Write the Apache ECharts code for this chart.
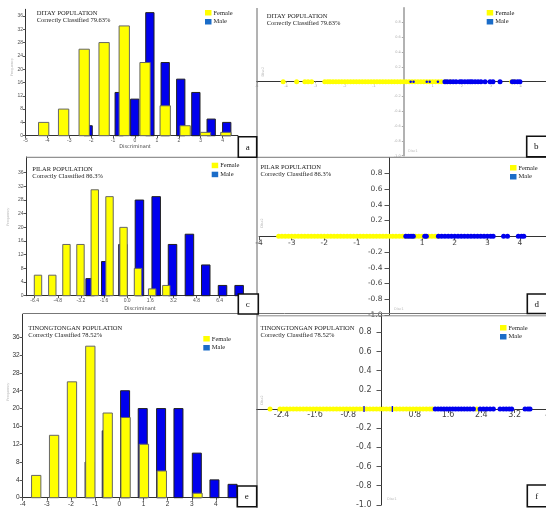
<!DOCTYPE html>
<html>
<head>
<meta charset="utf-8">
<script src="https://cdn.jsdelivr.net/npm/echarts@6/dist/echarts.min.js"></script>
<style>
html, body { margin: 0; padding: 0; background: #fff; }
#chart { width: 546px; height: 508px; }
</style>
</head>
<body>
<div id="chart"></div>
<script>
// tick values
const freqTicks = [0, 4, 8, 12, 16, 20, 24, 28, 32, 36];
const ditayTicks = [-5, -4, -3, -2, -1, 0, 1, 2, 3, 4];
const pilarTicks = [-6.4, -4.8, -3.2, -1.6, 0, 1.6, 3.2, 4.8, 6.4];
const tinongTicks = [-4, -3, -2, -1, 0, 1, 2, 3, 4];
const ditayScatterTicks = [-5, -4, -3, -2, -1, 1, 2, 3, 4];
const pilarScatterTicks = [-4, -3, -2, -1, 1, 2, 3, 4];
const tinongScatterTicks = [-2.4, -1.6, -0.8, 0.8, 1.6, 2.4, 3.2, 4];
const disc2Ticks = [-1, -0.8, -0.6, -0.4, -0.2, 0.2, 0.4, 0.6, 0.8];

// histograms (bin centre, frequency)
const ditayFemaleX = [-4.17, -3.26, -2.32, -1.41, -0.49, 0.46, 1.38, 2.29, 3.22, 4.15];
const ditayFemaleN = [4, 8, 26, 28, 33, 22, 9, 3, 1, 1];
const ditayMaleX = [-2.14, -0.72, -0.01, 0.68, 1.38, 2.09, 2.78, 3.48, 4.19];
const ditayMaleN = [3, 13, 11, 37, 22, 17, 13, 5, 4];

const pilarFemaleX = [-6.17, -5.18, -4.2, -3.23, -2.24, -1.22, -0.25, 0.75, 1.73, 2.71];
const pilarFemaleN = [6, 6, 15, 15, 31, 29, 20, 8, 2, 3];
const pilarMaleX = [-2.56, -1.48, -0.29, 0.85, 2.01, 3.14, 4.31, 5.44, 6.6, 7.75];
const pilarMaleN = [5, 10, 15, 28, 29, 15, 18, 9, 3, 3];

const tinongFemaleX = [-3.44, -2.7, -1.96, -1.2, -0.48, 0.26, 1.02, 1.76, 3.24];
const tinongFemaleN = [5, 14, 26, 34, 19, 18, 12, 6, 1];
const tinongMaleX = [-1.23, -0.52, 0.24, 0.97, 1.73, 2.45, 3.21, 3.94, 4.69];
const tinongMaleN = [8, 15, 24, 20, 20, 20, 10, 4, 3];

// discriminant scores (plotted on Disc2 = 0)
const ditayFemaleScores = [-4.1, -3.64, -3.36, -3.25, -3.13, -2.68, -2.58, -2.5, -2.4, -2.3, -2.2, -2.1, -2.0,
  -1.9, -1.8, -1.7, -1.6, -1.5, -1.4, -1.3, -1.2, -1.1, -1.0, -0.9, -0.8, -0.7, -0.6, -0.5, -0.4, -0.3, -0.2,
  -0.1, 0.0, 0.1, 0.2, 0.3, 0.4, 0.5, 0.6, 0.7, 0.8, 0.9, 1.0, 1.1, 1.2, 1.3, 1.45, 1.6, 3.7, 3.8];
const ditayMaleMinor = [0.25, 0.35, 0.8, 0.9, 1.18];
const ditayMaleScores = [1.42, 1.5, 1.6, 1.7, 1.8, 1.93, 2.0, 2.1, 2.2, 2.28, 2.35, 2.45, 2.55, 2.65, 2.79,
  2.96, 3.06, 3.3, 3.72, 3.8, 3.9, 3.98];

const pilarFemaleScores = [-3.4, -3.3, -3.2, -3.1, -3.0, -2.9, -2.8, -2.7, -2.6, -2.5, -2.4, -2.3, -2.2, -2.1,
  -2.0, -1.9, -1.8, -1.7, -1.6, -1.5, -1.4, -1.3, -1.2, -1.1, -1.0, -0.9, -0.8, -0.7, -0.6, -0.5, -0.4, -0.3,
  -0.2, -0.1, 0.0, 0.1, 0.2, 0.3, 0.4, 0.5, 0.6, 0.7, 0.8, 0.9, 1.0, 1.1, 1.2, 1.3, 1.4, 1.5];
const pilarMaleScores = [0.5, 0.58, 0.66, 0.73, 1.08, 1.13, 1.5, 1.6, 1.7, 1.8, 1.9, 2.0, 2.1, 2.2, 2.3, 2.4,
  2.5, 2.6, 2.7, 2.8, 2.9, 3.0, 3.1, 3.18, 3.5, 3.62, 3.95, 4.05, 4.12];

const tinongFemaleScores = [-2.68, -2.44, -2.36, -2.28, -2.2, -2.12, -2.04, -1.96, -1.88, -1.8, -1.72, -1.64,
  -1.56, -1.48, -1.4, -1.32, -1.24, -1.16, -1.08, -1.0, -0.92, -0.84, -0.76, -0.68, -0.6, -0.52, -0.44, -0.36,
  -0.28, -0.2, -0.12, -0.04, 0.04, 0.12, 0.2, 0.28, 0.36, 0.44, 0.52, 0.6, 0.68, 0.76, 0.84, 0.92, 1.0, 1.08,
  1.16, 1.22, 2.29];
const tinongCentroids = [-0.42, 0.26];
const tinongMaleScores = [1.29, 1.36, 1.43, 1.5, 1.57, 1.64, 1.71, 1.78, 1.85, 1.92, 1.99, 2.06, 2.13, 2.21,
  2.37, 2.45, 2.53, 2.61, 2.69, 2.85, 2.93, 3.0, 3.07, 3.13, 3.45, 3.52, 3.57];

const YELLOW = '#ffff00';
const BLUE = '#0000ee';
const LEGEND_BLUE = '#1a6cc8';

const chart = echarts.init(document.getElementById('chart'));

function pairs(xs, ys) {
    return xs.map((x, i) => [x, ys ? ys[i] : 0]);
}

function barRender(width, fill, stroke) {
    return function (params, api) {
        const base = api.coord([api.value(0), 0]);
        const top = api.coord([api.value(0), api.value(1)]);
        return {
            type: 'rect',
            shape: { x: base[0] - width / 2, y: top[1], width: width, height: base[1] - top[1] },
            style: { fill: fill, stroke: stroke, lineWidth: 1 }
        };
    };
}

function histBars(idx, xs, ys, width, fill, stroke) {
    return {
        type: 'custom', xAxisIndex: idx, yAxisIndex: idx,
        data: pairs(xs, ys), renderItem: barRender(width, fill, stroke),
        encode: { x: 0, y: 1 }, silent: true
    };
}

function dots(idx, xs, color, size, symbol) {
    return {
        type: 'scatter', xAxisIndex: idx, yAxisIndex: idx,
        data: pairs(xs), symbol: symbol || 'circle', symbolSize: size,
        itemStyle: { color: color, opacity: 1 }, silent: true
    };
}

function valueAxis(idx, min, max, ticks, fmt, font, offset, line) {
    return {
        type: 'value', gridIndex: idx, min: min, max: max, offset: offset,
        splitLine: { show: false },
        axisLine: { onZero: false, lineStyle: line },
        axisTick: { customValues: ticks, length: font.tick, lineStyle: { color: font.tickColor || '#555' } },
        axisLabel: {
            customValues: ticks, formatter: fmt, fontSize: font.size, color: font.color,
            fontFamily: font.family, margin: font.margin
        }
    };
}

const histFont = { size: 5, color: '#555', family: 'Liberation Sans', margin: 2.5, tick: 2.5 };
const histFontE = { size: 6.5, color: '#333', family: 'Liberation Sans', margin: 3, tick: 3 };
const tinyFont = { size: 3.5, color: '#aaa', family: 'DejaVu Sans', margin: 2.5, tick: 1.5, tickColor: '#aaa' };
const scatFontD = { size: 7.5, color: '#444', family: 'DejaVu Sans', margin: 3, tick: 4 };
const scatFontDY = { size: 7.5, color: '#444', family: 'DejaVu Sans', margin: 7, tick: 5 };
const scatFontF = { size: 8, color: '#444', family: 'DejaVu Sans', margin: 2, tick: 4 };
const scatFontFY = { size: 8, color: '#444', family: 'DejaVu Sans', margin: 10, tick: 5 };

const intFmt = v => String(Math.round(v * 10) / 10);
const oneDec = v => (Math.abs(v - 4) < 1e-9 ? '4' : v.toFixed(1));
const darkLine = { color: '#333', width: 1 };
const grayLine = { color: '#999', width: 1.5 };

const grids = [
    { left: 25.5, top: 9.3, width: 212.4, height: 126.4 },
    { left: 256.8, top: 7.7, width: 290.1, height: 148 },
    { left: 26, top: 157, width: 216.75, height: 138.7 },
    { left: 259.1, top: 157.5, width: 286.9, height: 157.5 },
    { left: 22.7, top: 314.1, width: 217.35, height: 183.6 },
    { left: 256.7, top: 313.2, width: 291.2, height: 191.6 }
];

// scatter panels: shift the axes so they cross at (0, 0)
function xOffset(g, ymin, ymax) { return -(g.height * (0 - ymin) / (ymax - ymin)); }
function yOffset(g, xmin, xmax) { return -(g.width * (0 - xmin) / (xmax - xmin)); }

const xAxes = [
    valueAxis(0, -5, 4.7, ditayTicks, intFmt, histFont, 0, darkLine),
    valueAxis(1, -5, 4.9, ditayScatterTicks, intFmt, tinyFont, xOffset(grids[1], -1, 1), darkLine),
    valueAxis(2, -7, 8, pilarTicks, v => v.toFixed(1), histFont, 0, darkLine),
    valueAxis(3, -4, 4.8, pilarScatterTicks, intFmt, scatFontD, xOffset(grids[3], -1, 1), darkLine),
    valueAxis(4, -4, 5, tinongTicks, intFmt, histFontE, 0, darkLine),
    valueAxis(5, -3, 4, tinongScatterTicks, oneDec, scatFontF, xOffset(grids[5], -1, 1), darkLine)
];
const yAxes = [
    valueAxis(0, 0, 38, freqTicks, intFmt, histFont, 0, darkLine),
    valueAxis(1, -1, 1, disc2Ticks, v => v.toFixed(1), tinyFont, yOffset(grids[1], -5, 4.9), grayLine),
    valueAxis(2, 0, 40.6, freqTicks, intFmt, histFont, 0, darkLine),
    valueAxis(3, -1, 1, disc2Ticks, v => v.toFixed(1), scatFontDY, yOffset(grids[3], -4, 4.8), darkLine),
    valueAxis(4, 0, 41.2, freqTicks, intFmt, histFontE, 0, darkLine),
    valueAxis(5, -1, 1, disc2Ticks, v => v.toFixed(1), scatFontFY, yOffset(grids[5], -3, 4), darkLine)
];

const series = [
    histBars(0, ditayMaleX, ditayMaleN, 8.3, BLUE, '#222'),
    histBars(0, ditayFemaleX, ditayFemaleN, 10.3, YELLOW, '#666'),
    dots(1, ditayFemaleScores, YELLOW, 5),
    dots(1, ditayMaleMinor, BLUE, 2.5),
    dots(1, ditayMaleScores, BLUE, 5),
    histBars(2, pilarMaleX, pilarMaleN, 8.5, BLUE, '#222'),
    histBars(2, pilarFemaleX, pilarFemaleN, 7.4, YELLOW, '#666'),
    dots(3, pilarFemaleScores, YELLOW, 5),
    dots(3, pilarMaleScores, BLUE, 5),
    histBars(4, tinongMaleX, tinongMaleN, 9, BLUE, '#222'),
    histBars(4, tinongFemaleX, tinongFemaleN, 9.3, YELLOW, '#666'),
    dots(5, tinongFemaleScores, YELLOW, 5),
    dots(5, tinongMaleScores, BLUE, 5),
    dots(5, tinongCentroids, BLUE, [1.3, 6], 'rect')
];

// panel annotations
const panels = [
    { tx: 36.7, ty: 13, name: 'DITAY POPULATION', rate: 'Correctly Classified 79.63%', lx: 205, ly: 10, box: [238.3, 136.7, 18.4, 20.6], letter: 'a' },
    { tx: 266.7, ty: 16.7, name: 'DITAY POPULATION', rate: 'Correctly Classified 79.63%', lx: 486.7, ly: 10, box: [526.7, 136.3, 22, 20.6], letter: 'b' },
    { tx: 32.3, ty: 169, name: 'PILAR POPULATION', rate: 'Correctly Classified 86.3%', lx: 211.7, ly: 162.7, box: [238.3, 294, 20, 20], letter: 'c' },
    { tx: 260.5, ty: 167, name: 'PILAR POPULATION', rate: 'Correctly Classified 86.3%', lx: 510, ly: 165, box: [527.3, 294, 22, 19.5], letter: 'd' },
    { tx: 28.3, ty: 328.7, name: 'TINONGTONGAN POPULATION', rate: 'Correctly Classified 78.52%', lx: 203.3, ly: 336, box: [237.3, 486, 19.4, 20.7], letter: 'e' },
    { tx: 260.5, ty: 328.3, name: 'TINONGTONGAN POPULATION', rate: 'Correctly Classified 78.52%', lx: 500, ly: 325, box: [527.3, 485, 22, 21.7], letter: 'f' }
];

const graphic = [];
function text(x, y, str, style, extra) {
    graphic.push(Object.assign({
        type: 'text', x: x, y: y, z: 20, silent: true,
        style: Object.assign({ text: str, fill: '#222', fontFamily: 'Liberation Serif', fontSize: 6.5,
            textVerticalAlign: 'middle' }, style)
    }, extra || {}));
}
function line(x1, y1, x2, y2, color, w) {
    graphic.push({ type: 'line', z: 15, silent: true, shape: { x1, y1, x2, y2 },
        style: { stroke: color, lineWidth: w } });
}

line(257, 8, 257, 508, '#666', 1);
line(26, 157.3, 546, 157.3, '#777', 1);
line(23, 313.5, 546, 313.5, '#777', 1);
line(257, 315.8, 546, 315.8, '#888', 1);

panels.forEach(p => {
    text(p.tx, p.ty, p.name, {});
    text(p.tx, p.ty + 6.8, p.rate, {});
    graphic.push({ type: 'rect', z: 20, silent: true, shape: { x: p.lx, y: p.ly, width: 6.5, height: 5.5 }, style: { fill: YELLOW } });
    graphic.push({ type: 'rect', z: 20, silent: true, shape: { x: p.lx, y: p.ly + 9, width: 6.5, height: 5.5 }, style: { fill: LEGEND_BLUE } });
    text(p.lx + 8.5, p.ly + 3, 'Female', { fontSize: 6.5 });
    text(p.lx + 8.5, p.ly + 11.5, 'Male', { fontSize: 6.5 });
    const b = p.box;
    graphic.push({ type: 'rect', z: 30, silent: true, shape: { x: b[0], y: b[1], width: b[2], height: b[3] },
        style: { fill: '#fff', stroke: '#111', lineWidth: 1.6 } });
    text(b[0] + 9.5, b[1] + b[3] / 2 + 0.5, p.letter, { fontSize: 9, textAlign: 'center', fill: '#111' }, { z: 31 });
});

const axisNameStyle = { fontFamily: 'DejaVu Sans', fontSize: 5, fill: '#444', textAlign: 'center' };
text(135, 146.7, 'Discriminant', axisNameStyle);
text(140, 309, 'Discriminant', axisNameStyle);
const freqStyle = { fontFamily: 'DejaVu Sans', fontSize: 3.5, fill: '#bbb', textAlign: 'center' };
text(12.3, 67, 'Frequency', freqStyle, { rotation: Math.PI / 2 });
text(8.3, 216.7, 'Frequency', freqStyle, { rotation: Math.PI / 2 });
text(8.3, 391.7, 'Frequency', freqStyle, { rotation: Math.PI / 2 });
const discStyle = { fontFamily: 'DejaVu Sans', fontSize: 3.5, fill: '#bbb', textAlign: 'center' };
text(263.3, 71.7, 'Disc2', discStyle, { rotation: Math.PI / 2 });
text(261.7, 223, 'Disc2', discStyle, { rotation: Math.PI / 2 });
text(261.7, 400, 'Disc2', discStyle, { rotation: Math.PI / 2 });
const disc1Style = { fontFamily: 'DejaVu Sans', fontSize: 3.5, fill: '#bbb' };
text(408, 150.7, 'Disc1', disc1Style);
text(394, 309, 'Disc1', disc1Style);
text(387, 499, 'Disc1', disc1Style);

chart.setOption({
    animation: false,
    grid: grids.map(g => Object.assign({ outerBoundsMode: 'none', containLabel: false }, g)),
    xAxis: xAxes,
    yAxis: yAxes,
    series: series,
    graphic: graphic
});
</script>
</body>
</html>
